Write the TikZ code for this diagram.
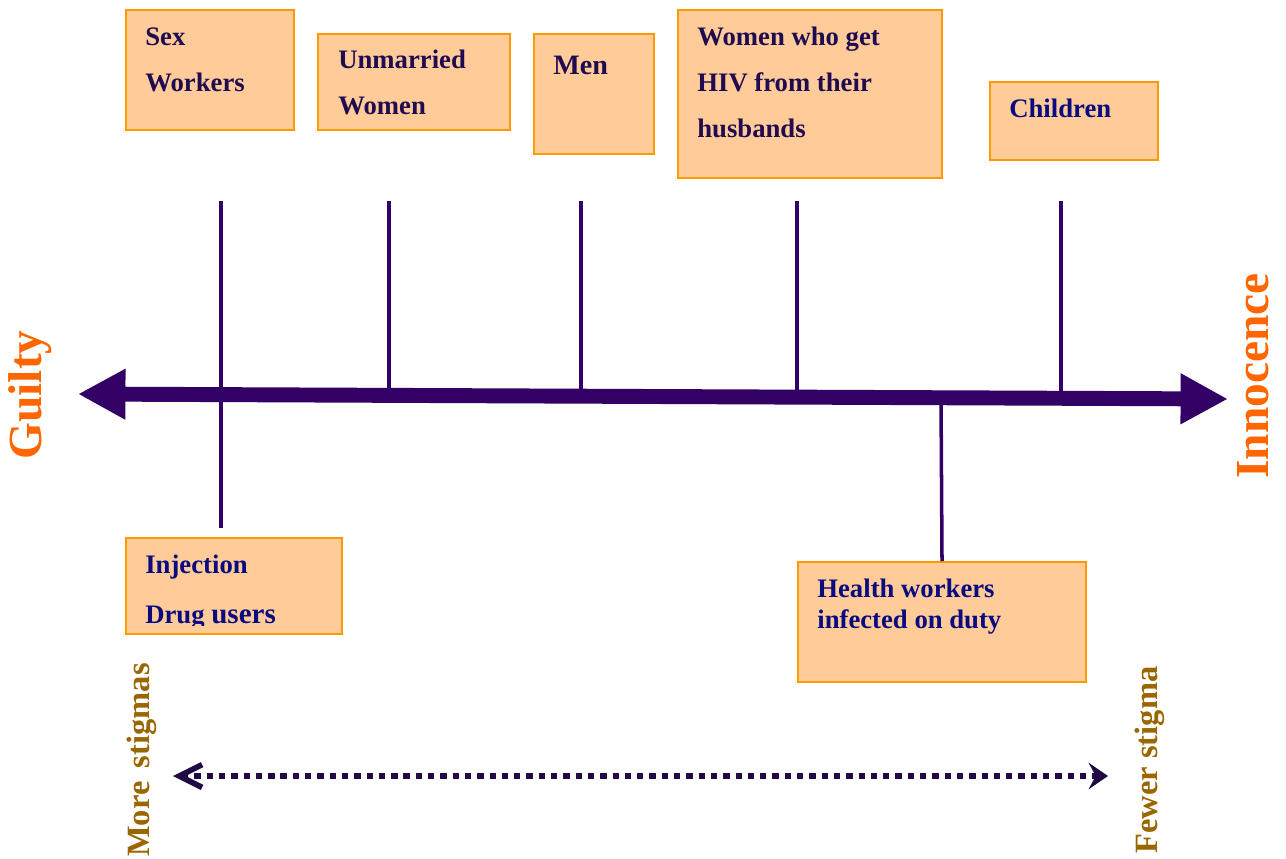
\documentclass[tikz,border=0pt]{standalone}
\usepackage{fontspec}
\setmainfont{Liberation Serif}
\usetikzlibrary{arrows.meta}
\definecolor{boxfill}{HTML}{FFCC99}
\definecolor{boxline}{HTML}{FF9900}
\definecolor{axis}{HTML}{330066}
\definecolor{dots}{HTML}{1F0A45}
\definecolor{txtpurple}{HTML}{200B50}
\definecolor{txtblue}{HTML}{0A0A80}
\definecolor{endlab}{HTML}{FF6600}
\definecolor{stiglab}{HTML}{996600}

\begin{document}
\begin{tikzpicture}[x=0.02cm,y=-0.02cm,
    grp/.style={draw=boxline, fill=boxfill, line width=1.2pt, anchor=north west, inner sep=0pt},
    grptext/.style={anchor=base west, inner sep=0pt, align=left, text=txtpurple,
      font=\bfseries\fontsize{15.2}{26}\selectfont},
    tick/.style={draw=axis, line width=2pt},
    endlabel/.style={rotate=90, inner sep=0pt, text=endlab, font=\bfseries\fontsize{27}{30}\selectfont},
    stiglabel/.style={rotate=90, inner sep=0pt, text=stiglab, font=\bfseries\fontsize{18.5}{20}\selectfont}]
  \useasboundingbox (0,0) rectangle (1286,859);

  % boxes on top
  \node[grp, minimum width=3.36cm, minimum height=2.4cm] (sex) at (125,9) {};
  \node[grp, minimum width=3.84cm, minimum height=1.92cm] (unm) at (317,33) {};
  \node[grp, minimum width=2.4cm, minimum height=2.4cm] (men) at (533,33) {};
  \node[grp, minimum width=5.28cm, minimum height=3.36cm] (wives) at (677,9) {};
  \node[grp, minimum width=3.36cm, minimum height=1.56cm] (kids) at (989,81) {};
  % boxes below
  \node[grp, minimum width=4.32cm, minimum height=1.92cm] (idu) at (125,537) {};
  \node[grp, minimum width=5.76cm, minimum height=2.4cm] (hcw) at (797,561) {};

  % box texts (anchored at the base of the last line)
  \node[grptext] (sextxt) at ([shift={(20,82)}]sex.north west) {Sex\\Workers};
  \node[grptext] (unmtxt) at ([shift={(21,81)}]unm.north west) {Unmarried\\Women};
  \node[grptext, font=\bfseries\fontsize{16}{20}\selectfont] (mentxt) at ([shift={(20,41)}]men.north west) {Men};
  \node[grptext] (wivestxt) at ([shift={(20,128)}]wives.north west) {Women who get\\HIV from their\\husbands};
  \node[grptext, text=txtblue] (kidstxt) at ([shift={(20,36)}]kids.north west) {Children};
  \begin{scope}
    \clip (idu.north west) rectangle ([shift={(0,-10)}]idu.south east);
    \node[grptext, text=txtblue, font=\bfseries\fontsize{15.2}{28}\selectfont] (idutxt)
      at ([shift={(20,86)}]idu.north west) {Injection\\Drug {\fontsize{16.5}{28}\selectfont users}};
  \end{scope}
  \node[grptext, text=txtblue, font=\bfseries\fontsize{15.2}{17.6}\selectfont] (hcwtxt)
    at ([shift={(20,67)}]hcw.north west) {Health workers\\infected on duty};

  % ticks
  \coordinate (t1) at (221,201); \coordinate (b1) at (221,528);
  \coordinate (t2) at (389,201); \coordinate (b2) at (389,395);
  \coordinate (t3) at (581,201); \coordinate (b3) at (581,396);
  \coordinate (t4) at (797,201); \coordinate (b4) at (797,397);
  \coordinate (t5) at (1061,201); \coordinate (b5) at (1061,398);
  \coordinate (t6) at (941,397);
  \draw[tick] (t1) -- (b1);
  \draw[tick] (t2) -- (b2);
  \draw[tick] (t3) -- (b3);
  \draw[tick] (t4) -- (b4);
  \draw[tick] (t5) -- (b5);
  \draw[tick] (t6) -- (hcw.north);

  % main axis
  \coordinate (gl) at (78,394);
  \coordinate (in) at (1228,399);
  \draw[axis, line width=8.5pt, {Triangle[length=27pt,width=27pt]}-{Triangle[length=27pt,width=27pt]}] (gl) -- (in);

  \node[endlabel] (guilty) at (30,395) {Guilty};
  \node[endlabel] (innoc) at (1253,376) {Innocence};

  % stigma scale
  \coordinate (ms) at (173,776);
  \coordinate (fs) at (1108,776);
  \draw[dots, line width=3.2pt, dash pattern=on 3.6pt off 3.4pt,
    {Straight Barb[length=13pt,width=13pt]}-{Stealth[length=11pt,width=15pt,inset=4pt]}] (ms) -- (fs);

  \node[stiglabel] (morest) at (142,760) {More\, stigmas};
  \node[stiglabel] (fewst) at (1150,760) {Fewer stigma};
\end{tikzpicture}
\end{document}
